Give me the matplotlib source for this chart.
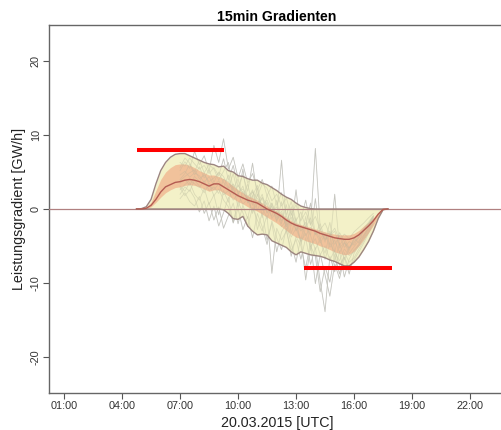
"""
15min Gradienten chart for 20.03.2015
"""
import numpy as np
import matplotlib
matplotlib.use('Agg')
from matplotlib import pyplot as plt

plt.rcParams['font.family'] = ['Liberation Sans', 'DejaVu Sans']

# hours of the 15 min grid for the quantile curves
hours = np.arange(4.75, 17.76, 0.25)

upper = [0, 0.05, 0.3, 1.3, 3.4, 5.2, 6.3, 7.0, 7.4, 7.5, 7.5, 7.2, 6.9,
         6.6, 6.3, 6.1, 6.0, 5.7, 5.8, 5.2, 5.0, 4.5, 4.4, 4.1, 3.9, 3.9,
         3.5, 3.3, 2.9, 2.5, 2.0, 1.6, 1.3, 0.8, 0.4, 0.2, 0.05, 0, 0, 0,
         0, 0, 0, 0, 0, 0, 0, 0, 0, 0, 0, 0, 0]
median = [0, 0, 0.1, 0.5, 1.3, 2.3, 3.0, 3.3, 3.6, 3.7, 3.9, 4.0, 3.9,
          3.7, 3.4, 3.1, 3.4, 3.4, 3.0, 2.6, 2.2, 1.8, 1.5, 1.2, 1.0, 0.8,
          0.4, 0.0, -0.3, -0.6, -1.0, -1.5, -1.9, -2.2, -2.4, -2.6, -2.8,
          -3.0, -3.3, -3.5, -3.7, -3.9, -4.0, -4.1, -4.1, -3.9, -3.5, -2.9,
          -2.3, -1.6, -0.7, -0.05, 0]
lower = [0, 0, 0, 0, 0, 0, 0, 0, 0, 0, 0, 0, 0, 0, 0, 0, 0, 0, -0.1,
         -0.6, -1.3, -1.4, -1.0, -2.3, -3.0, -3.5, -3.4, -3.5, -4.3, -4.6,
         -4.9, -5.2, -5.8, -6.2, -5.8, -6.0, -6.2, -6.3, -6.4, -6.6, -6.9,
         -7.1, -7.4, -7.7, -7.7, -7.2, -6.5, -5.5, -4.4, -3.0, -1.3, -0.1, 0]
core_top = [0, 0, 0.2, 0.9, 2.5, 4.0, 5.0, 5.6, 6.0, 6.1, 6.1, 5.9, 5.6,
            5.2, 4.9, 4.6, 4.6, 4.4, 4.1, 3.6, 3.1, 2.6, 2.2, 1.8, 1.5, 1.2,
            0.8, 0.4, 0.0, -0.3, -0.7, -1.2, -1.6, -1.9, -2.1, -2.3, -2.5,
            -2.7, -2.9, -3.1, -3.3, -3.4, -3.5, -3.5, -3.5, -3.3, -2.9, -2.3,
            -1.8, -1.2, -0.5, 0, 0]
core_bot = [0, 0, 0.05, 0.3, 0.9, 1.6, 2.2, 2.6, 2.9, 3.0, 3.2, 3.3, 3.2,
            3.0, 2.7, 2.4, 2.6, 2.6, 2.2, 1.8, 1.4, 1.0, 0.7, 0.3, 0.0, -0.3,
            -0.7, -1.1, -1.5, -1.9, -2.4, -2.9, -3.4, -3.8, -4.0, -4.3, -4.5,
            -4.7, -5.0, -5.2, -5.5, -5.8, -6.0, -6.2, -6.1, -5.7, -5.0, -4.1,
            -3.2, -2.2, -1.0, -0.1, 0]

# single days, 07:00 - 17:00
trace_hours = np.arange(7.0, 17.01, 0.25)
traces = [
    [5.2, 6.4, 5.5, 7.8, 6.0, 7.2, 5.1, 8.6, 6.3, 9.5, 5.4, 7.0, 4.2, 6.1,
     3.5, 4.8, 2.6, 4.0, 1.8, 3.1, 0.5, 2.2, -0.8, 1.0, -1.6, -0.4, -2.5,
     -1.2, -3.4, -2.0, -4.1, -3.0, -4.8, -3.6, -5.2, -4.4, -4.9, -3.8, -3.0,
     -2.1, -1.2],
    [3.1, 2.4, 3.6, 2.0, 1.2, 2.8, 0.6, 1.9, -0.8, 2.5, 0.9, 3.3, 0.2, 2.4,
     1.3, -0.6, 2.0, 0.4, -1.4, 0.8, -0.9, 6.6, -1.8, -0.2, -3.0, -1.4, 1.2,
     -2.2, 8.2, -2.6, -4.5, -1.8, -5.8, -3.2, -4.4, -5.6, -3.9, -4.6, -2.8,
     -2.0, -1.0],
    [2.0, 3.0, 2.4, 3.9, 3.1, 2.2, 3.5, 1.8, 2.7, 1.2, 0.3, -1.8, 1.0, -0.5,
     -2.4, 0.2, -1.5, -3.0, -0.8, -8.7, -2.6, -4.2, -3.0, -5.6, -4.1, -6.8,
     -3.9, -7.5, -5.2, -9.8, -13.9, -6.4, -8.5, -5.7, -9.2, -6.8, -5.5, -4.9,
     -3.6, -2.7, -1.5],
    [4.6, 5.1, 4.3, 4.9, 4.5, 3.6, 4.4, 3.2, 3.8, 2.9, 4.6, 1.9, 3.2, 2.2,
     1.4, 2.6, 0.6, 1.5, -0.5, 0.8, -1.2, -0.3, -2.4, -1.1, -2.9, -2.2, -3.6,
     -2.5, -3.1, -4.6, -3.4, -5.2, -4.2, -5.9, -4.6, -5.3, -4.1, -3.4, -2.6,
     -1.8, -0.9],
    [1.4, 2.2, 1.0, 0.4, 1.7, -0.6, 0.9, -1.5, 0.3, -2.6, -0.9, 0.8, -2.0,
     0.5, -1.3, 1.8, -2.8, -0.5, -4.2, -1.9, -5.8, -3.1, -2.0, -4.6, -7.2,
     -3.8, -9.6, -5.0, -6.4, -11.2, -7.8, -9.9, -6.1, -8.8, -5.9, -7.2, -6.6,
     -5.4, -4.3, -3.1, -1.8],
    [6.3, 5.8, 6.9, 6.1, 5.4, 5.9, 4.8, 5.6, 4.5, 6.8, 3.9, 5.9, 3.0, 4.6,
     2.4, 6.2, 1.7, 3.4, 2.8, 1.1, 2.0, 0.4, 1.5, -0.8, 0.6, -1.6, -0.4,
     -2.1, -1.0, -2.8, -1.9, -3.5, -2.6, -4.2, -3.4, -4.0, -3.1, -2.5, -1.9,
     -1.2, -0.6],
    [3.8, 4.4, 4.9, 5.3, 4.1, 4.6, 3.7, 4.2, 4.9, 3.6, 2.8, 3.4, 2.3, 2.7,
     1.7, 2.3, 1.4, 0.6, 1.2, -0.4, 0.3, -1.6, -0.9, -2.3, 2.6, -2.9, -1.8,
     -3.5, 1.4, -4.0, -3.2, -4.8, 2.0, -5.3, -4.5, -6.0, -5.1, -4.3, -3.5,
     -2.4, -1.4],
    [2.6, 3.3, 3.9, 3.4, 2.9, 3.8, 2.5, 3.0, 2.1, 4.0, 3.7, 2.5, 1.6, 5.4,
     0.9, 1.8, 3.2, -0.2, 0.9, -1.3, -0.3, -2.4, -1.5, -3.8, -2.6, -4.4,
     -3.3, -5.1, -4.0, -6.2, -5.0, -6.9, -5.6, -7.6, -6.5, -8.8, -6.0, -5.0,
     -4.0, -2.9, -1.6],
    [4.0, 4.8, 6.1, 4.6, 5.7, 4.2, 5.3, 3.6, 5.0, 4.4, 2.9, 4.8, 2.0, 3.1,
     0.8, 2.4, -0.2, 1.6, 0.5, -1.0, 1.2, -2.0, 0.6, -3.3, -1.2, -4.8, -2.4,
     -3.6, -5.5, -4.0, -6.8, -4.6, -5.9, -7.0, -5.4, -6.3, -5.8, -4.7, -3.8,
     -2.5, -1.3],
    [5.6, 6.9, 6.2, 5.0, 6.6, 4.9, 6.0, 5.4, 3.9, 5.1, 6.3, 2.6, 4.1, 1.3,
     3.4, 0.5, 2.8, -1.2, 1.9, 0.2, -1.7, 1.0, -3.1, -0.6, -2.2, -4.3, -1.0,
     -5.6, -2.9, -4.1, -6.0, -3.3, -7.1, -4.6, -6.9, -5.2, -4.4, -3.9, -3.0,
     -2.2, -1.1],
    [2.9, 1.8, 2.6, 1.5, -0.4, 1.1, -1.6, 0.4, -2.3, -0.5, 1.6, -1.9, 0.1,
     -2.8, -1.0, -3.9, -0.6, -2.4, -4.8, -1.6, -3.9, -5.5, -2.6, -6.4, -3.7,
     -5.0, -8.0, -4.4, -10.1, -6.1, -8.9, -11.8, -7.4, -9.4, -6.5, -8.0,
     -6.9, -5.8, -4.6, -3.3, -2.0],
    [3.5, 4.0, 3.2, 4.4, 3.7, 4.9, 3.3, 2.6, 3.4, 1.9, 2.5, 1.2, 2.1, 0.6,
     1.5, -0.3, 0.7, 2.0, -0.6, 0.4, -1.5, -0.6, -2.1, 0.3, -1.9, -3.0, -2.3,
     0.8, -3.5, -2.8, -4.2, -3.6, -3.0, -4.9, -4.0, -5.3, -4.6, -3.6, -2.8,
     -2.0, -1.0],
]

# red limit bars: level, start hour, end hour
limit_levels = [8, -8]
limit_start = [4.76, 13.41]
limit_end = [9.28, 17.94]

tick_hours = [1, 4, 7, 10, 13, 16, 19, 22]
tick_labels = ['01:00', '04:00', '07:00', '10:00', '13:00', '16:00',
               '19:00', '22:00']
y_ticks = [-20, -10, 0, 10, 20]


def gradient_plot():
    """
    Draw the 15min gradient fan chart
    """
    fig = plt.figure(figsize=(5.02, 4.30), dpi=100)
    ax = fig.add_axes([49 / 502, 37 / 430, 456 / 502, 368 / 430])

    # single days below the band, faint copy on top for texture
    for trace in traces:
        ax.plot(trace_hours, trace, color='#cccccc', lw=0.6, zorder=1)

    ax.fill_between(hours, lower, upper, color='#f0eebb', alpha=0.8,
                    lw=0, zorder=2)
    ax.fill_between(hours, core_bot, core_top, color='#f0a47e', alpha=0.6,
                    lw=0, zorder=3)

    for trace in traces:
        ax.plot(trace_hours, trace, color='#b8b8a0', lw=0.5, alpha=0.3,
                zorder=3.5)

    ax.axhline(0, color='#b08080', lw=0.9, zorder=4)
    ax.plot(hours, upper, color='#9c8580', lw=1.0, zorder=5)
    ax.plot(hours, lower, color='#9c8580', lw=1.0, zorder=5)
    ax.plot(hours, median, color='#b45c52', lw=1.0, zorder=5)

    ax.hlines(limit_levels, limit_start, limit_end, colors='#ff0000',
              lw=2.9, zorder=6)

    ax.set_xlim(0.22, 23.81)
    ax.set_ylim(-24.9, 24.9)
    ax.set_xticks(tick_hours)
    ax.set_xticklabels(tick_labels)
    ax.set_yticks(y_ticks)
    ax.set_yticklabels([str(v) for v in y_ticks], rotation=90, va='center')
    ax.tick_params(direction='out', length=4, width=0.8, color='#555555',
                   labelsize=7.8, labelcolor='#333333', pad=2)
    for spine in ax.spines.values():
        spine.set_color('#666666')
        spine.set_linewidth(1.0)
    ax.spines['right'].set_visible(False)

    ax.set_title('15min Gradienten', fontsize=10.2, fontweight='bold',
                 pad=3)
    ax.set_xlabel('20.03.2015 [UTC]', fontsize=10.3, color='#222222',
                  labelpad=3)
    ax.set_ylabel('Leistungsgradient [GW/h]', fontsize=10.3,
                  color='#222222', labelpad=3)

    fig.savefig('out.png', dpi=100)


gradient_plot()
